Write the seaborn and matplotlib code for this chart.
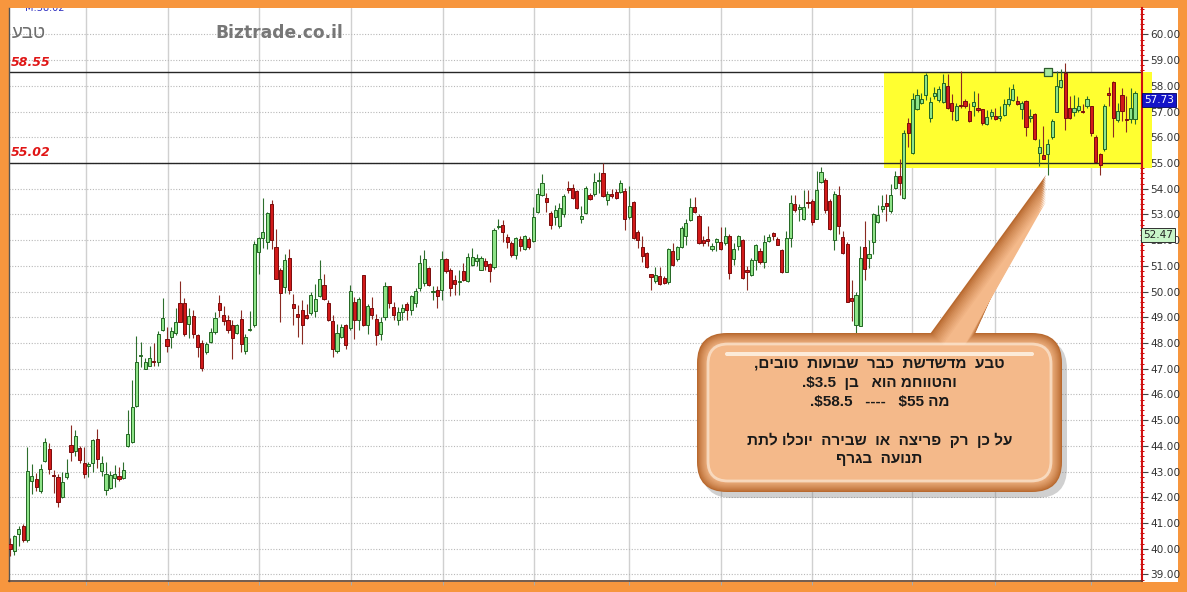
import re
import numpy as np
import pandas as pd
import matplotlib
matplotlib.use("Agg")
import matplotlib.pyplot as plt
import matplotlib.patches as mpatches
import matplotlib.transforms as mtransforms
import seaborn as sns

# ---- daily candles (oldest first) ----
opens = [
    40.2, 39.9, 40.56, 40.9, 40.35, 42.64, 42.7, 42.25, 43.42, 43.87,
    42.86, 42.8, 42.03, 42.8, 44.04, 43.8, 43.91, 43.35, 43.2, 43.35,
    44.26, 43.03, 42.29, 42.38, 42.74, 42.83, 42.77, 44.0, 44.16, 45.56,
    47.49, 47.01, 47.12, 47.31, 47.27, 48.52, 48.16, 48.22, 48.39, 49.56,
    49.56, 48.74, 49.06, 48.3, 48.01, 47.65, 48.06, 48.43, 49.57, 49.08,
    48.9, 48.71, 48.4, 48.95, 47.71, 48.5, 48.69, 51.55, 52.09, 51.94,
    53.39, 51.74, 50.83, 50.18, 51.29, 49.52, 49.14, 49.27, 49.1, 49.18,
    49.23, 49.83, 50.25, 49.57, 48.84, 47.71, 48.23, 48.69, 48.58, 49.6,
    48.88, 50.64, 48.71, 49.36, 48.95, 48.35, 49.0, 50.21, 49.4, 48.9,
    49.2, 49.5, 49.3, 49.56, 50.14, 50.34, 50.92, 49.97, 50.08, 50.08,
    51.25, 50.86, 50.47, 50.36, 50.79, 50.4, 51.05, 51.2, 50.86, 51.21,
    51.08, 50.96, 52.5, 52.61, 52.13, 51.9, 51.44, 52.06, 51.64, 52.06,
    51.96, 53.09, 53.74, 53.65, 53.04, 52.91, 52.55, 53.0, 54.04, 54.04,
    53.91, 52.83, 53.06, 53.74, 53.78, 54.3, 54.6, 53.58, 53.78, 53.88,
    53.87, 53.91, 52.91, 53.48, 52.3, 51.74, 51.51, 50.68, 50.4, 50.6,
    50.53, 50.36, 51.57, 51.25, 51.74, 52.18, 52.78, 53.3, 52.96, 52.0,
    52.05, 51.66, 51.92, 51.92, 51.9, 52.18, 51.27, 51.79, 52.0, 50.86,
    50.65, 51.23, 51.57, 51.14, 51.96, 52.28, 52.06, 51.61, 50.77, 52.09,
    53.42, 53.2, 52.84, 53.47, 53.51, 52.84, 54.28, 54.36, 53.51, 52.0,
    53.77, 52.13, 51.87, 49.77, 48.71, 48.68, 51.74, 51.29, 51.94, 52.71,
    53.23, 53.46, 53.12, 54.03, 54.49, 53.64, 56.56, 55.39, 57.12, 57.35,
    57.64, 56.74, 57.6, 57.46, 57.38, 58.0, 57.35, 56.68, 57.27, 57.42,
    57.03, 57.2, 57.12, 57.1, 56.52, 56.84, 56.84, 56.77, 56.86, 57.29,
    57.46, 57.42, 57.1, 57.42, 56.74, 56.9, 55.39, 55.32, 55.36, 56.0,
    57.0, 57.94, 58.52, 57.16, 57.0, 57.07, 57.03, 57.23, 57.2, 56.0,
    55.36, 55.55, 57.74, 58.15, 56.68, 57.64, 56.72, 56.71, 56.71,
]
highs = [
    40.4, 40.55, 40.9, 40.95, 43.94, 43.29, 42.96, 43.3, 44.29, 44.1,
    43.06, 42.9, 42.99, 43.48, 44.8, 44.62, 44.0, 43.96, 43.38, 44.26,
    44.65, 43.6, 43.38, 43.03, 43.25, 43.18, 43.38, 45.39, 46.56, 48.29,
    48.03, 47.4, 47.9, 48.0, 48.48, 49.74, 48.61, 48.61, 49.35, 50.43,
    49.74, 49.35, 49.3, 48.36, 48.1, 48.04, 48.58, 49.21, 49.86, 49.44,
    49.1, 48.88, 48.75, 49.27, 48.36, 49.23, 51.96, 52.13, 53.65, 53.08,
    53.56, 52.45, 50.9, 51.48, 51.65, 49.92, 49.47, 49.66, 49.53, 49.99,
    50.31, 51.22, 50.7, 49.66, 49.1, 48.75, 48.75, 48.75, 50.25, 49.79,
    49.79, 50.66, 49.53, 49.79, 49.14, 49.0, 50.36, 50.23, 49.6, 49.4,
    49.5, 49.6, 49.88, 50.14, 51.44, 51.61, 50.96, 50.21, 50.23, 51.57,
    51.31, 50.92, 50.66, 50.86, 51.12, 51.51, 51.7, 51.45, 51.4, 51.31,
    51.12, 52.48, 52.81, 52.77, 52.26, 51.96, 52.13, 52.16, 52.22, 52.13,
    53.3, 54.04, 54.56, 53.84, 53.13, 53.35, 53.43, 53.8, 54.3, 54.17,
    53.97, 53.32, 54.1, 53.84, 54.62, 54.65, 55.01, 53.91, 54.0, 54.0,
    54.36, 54.04, 54.1, 53.52, 52.39, 52.16, 51.53, 50.7, 50.96, 50.96,
    50.6, 51.7, 51.9, 51.79, 52.55, 52.81, 53.65, 53.69, 53.0, 52.18,
    52.55, 51.9, 52.09, 52.52, 52.52, 52.26, 51.9, 52.22, 52.05, 51.01,
    51.29, 51.87, 51.68, 52.19, 52.26, 52.32, 52.13, 51.65, 52.35, 53.74,
    53.74, 53.42, 53.97, 53.94, 53.61, 54.71, 54.84, 54.41, 53.61, 53.9,
    54.1, 52.35, 51.94, 50.45, 50.0, 51.78, 52.74, 52.0, 53.07, 53.36,
    53.77, 53.81, 54.19, 54.71, 55.16, 56.3, 56.77, 57.74, 57.87, 57.74,
    58.49, 57.55, 57.94, 58.0, 58.45, 58.45, 57.68, 57.35, 58.58, 57.51,
    57.35, 57.81, 57.74, 57.12, 57.07, 57.1, 57.16, 57.23, 57.48, 57.97,
    58.06, 57.59, 57.42, 57.46, 57.12, 56.94, 55.94, 56.45, 55.94, 56.71,
    58.58, 58.65, 58.9, 57.61, 57.64, 57.55, 57.29, 57.59, 57.23, 56.09,
    55.39, 57.29, 57.94, 58.19, 57.35, 57.9, 57.61, 57.9, 57.81,
]
lows = [
    39.7, 39.75, 40.1, 40.25, 40.25, 42.12, 42.25, 42.18, 43.38, 42.9,
    42.18, 41.62, 41.99, 42.73, 43.42, 43.61, 43.35, 42.77, 42.8, 42.99,
    43.16, 42.83, 42.08, 42.31, 42.42, 42.64, 42.73, 43.94, 44.13, 45.53,
    47.05, 46.99, 47.09, 47.1, 47.09, 48.48, 47.66, 47.79, 48.31, 48.81,
    48.29, 48.18, 48.2, 47.45, 46.9, 47.58, 48.01, 48.36, 49.01, 48.71,
    48.4, 47.39, 48.36, 47.65, 47.58, 48.45, 48.62, 50.7, 51.68, 51.65,
    51.65, 50.48, 48.82, 49.96, 49.92, 48.69, 48.23, 47.97, 48.95, 49.1,
    49.01, 49.79, 49.66, 48.84, 47.45, 47.62, 48.19, 47.75, 48.49, 48.17,
    48.49, 48.66, 48.36, 48.95, 47.94, 48.1, 48.9, 49.36, 48.9, 48.7,
    48.9, 48.9, 49.1, 49.4, 50.01, 50.21, 50.21, 49.69, 49.36, 49.69,
    50.73, 49.82, 49.88, 49.88, 50.4, 50.36, 50.99, 51.0, 50.83, 50.86,
    50.36, 50.88, 52.42, 51.92, 51.7, 51.35, 51.27, 51.57, 51.61, 51.64,
    51.92, 53.04, 53.71, 53.09, 52.42, 52.61, 52.49, 52.9, 53.84, 53.61,
    53.22, 52.68, 53.0, 53.56, 53.71, 53.82, 53.69, 53.35, 53.65, 53.61,
    53.84, 52.39, 52.81, 52.05, 51.7, 51.14, 50.92, 50.05, 50.34, 50.27,
    50.31, 50.31, 51.01, 51.21, 51.7, 51.83, 52.74, 53.04, 51.87, 51.77,
    51.77, 51.57, 51.57, 51.61, 51.83, 50.49, 51.05, 51.61, 50.49, 50.08,
    50.62, 50.84, 51.06, 50.9, 51.94, 52.0, 51.81, 50.71, 50.75, 51.74,
    53.1, 52.74, 52.77, 53.25, 52.58, 52.81, 54.23, 53.07, 52.39, 51.61,
    52.26, 51.45, 49.59, 48.84, 47.65, 48.65, 50.45, 50.9, 51.48, 52.65,
    53.1, 52.74, 53.07, 54.0, 53.77, 53.61, 55.61, 55.35, 57.07, 57.29,
    57.46, 56.61, 57.48, 57.38, 57.35, 57.1, 56.68, 56.65, 57.16, 57.16,
    56.61, 56.84, 56.97, 56.48, 56.48, 56.71, 56.68, 56.65, 56.84, 57.23,
    57.42, 57.25, 56.71, 56.04, 56.58, 55.91, 54.88, 55.14, 54.52, 55.94,
    56.97, 57.9, 56.3, 56.71, 56.84, 56.97, 56.94, 57.16, 56.06, 55.03,
    54.52, 55.48, 57.23, 56.0, 56.58, 56.65, 56.19, 56.55, 56.52,
]
closes = [
    40.0, 40.5, 40.78, 40.35, 43.03, 42.83, 42.42, 43.12, 44.16, 43.12,
    42.82, 41.82, 42.6, 42.96, 43.77, 44.39, 43.44, 42.9, 43.28, 44.22,
    43.5, 43.35, 42.92, 42.86, 42.92, 42.7, 43.05, 44.48, 45.52, 47.27,
    47.52, 47.27, 47.4, 47.25, 48.35, 48.96, 47.9, 48.48, 48.83, 48.83,
    48.35, 49.06, 48.35, 47.84, 47.04, 47.97, 48.43, 48.97, 49.27, 48.84,
    48.49, 48.19, 48.69, 47.97, 48.23, 48.53, 51.87, 52.09, 52.32, 53.04,
    52.0, 50.51, 49.96, 51.22, 50.05, 49.36, 49.01, 48.69, 48.97, 49.88,
    49.73, 50.48, 49.7, 48.88, 47.75, 48.4, 48.62, 47.94, 50.01, 48.88,
    49.73, 48.69, 49.44, 49.08, 48.3, 48.8, 50.21, 49.56, 49.1, 49.2,
    49.35, 49.3, 49.82, 50.01, 51.12, 51.25, 50.27, 49.99, 49.82, 51.27,
    50.79, 50.14, 50.31, 50.43, 50.44, 51.35, 51.34, 51.3, 51.31, 51.01,
    50.79, 52.39, 52.52, 52.31, 51.92, 51.44, 52.09, 51.79, 52.16, 51.74,
    52.91, 53.78, 54.21, 53.48, 52.61, 53.19, 53.25, 53.7, 53.95, 53.65,
    53.26, 52.96, 54.04, 53.61, 54.26, 54.35, 53.71, 53.78, 53.71, 53.65,
    54.21, 52.83, 53.32, 52.09, 52.0, 51.4, 50.96, 50.55, 50.66, 50.31,
    50.34, 51.66, 51.05, 51.74, 52.48, 52.68, 53.3, 53.09, 51.9, 51.9,
    51.96, 51.79, 52.05, 51.66, 52.18, 50.73, 51.66, 52.16, 50.53, 50.78,
    51.23, 51.81, 51.14, 51.94, 52.13, 52.17, 51.83, 50.75, 52.1, 53.46,
    53.16, 53.29, 53.29, 53.44, 52.71, 53.94, 54.65, 53.16, 52.45, 53.81,
    52.55, 51.52, 49.61, 49.64, 49.85, 51.32, 50.88, 51.45, 53.0, 52.97,
    53.33, 53.33, 53.74, 54.49, 54.23, 56.17, 56.17, 57.48, 57.64, 57.51,
    58.41, 57.38, 57.74, 57.87, 58.1, 57.16, 57.03, 57.23, 57.2, 57.23,
    56.65, 57.38, 57.08, 56.55, 56.81, 56.99, 56.71, 56.84, 57.29, 57.48,
    57.87, 57.29, 57.35, 56.39, 56.84, 55.94, 55.61, 55.16, 55.74, 56.65,
    58.0, 58.23, 56.77, 56.74, 57.16, 57.2, 56.99, 57.51, 56.17, 55.06,
    54.93, 57.23, 57.64, 56.74, 57.03, 57.03, 56.68, 57.16, 57.73,
]

# month boundaries on the day axis
month_breaks = [17.4, 36.2, 57.2, 78.2, 99.2, 120.1, 142.0, 163.1, 184.0, 206.9, 226.0, 247.9]
price_ticks = list(range(39, 61))

resistance = 58.55
support = 55.02
range_zone = (54.8, 58.55)
range_start_day = 200.5
alert_day = 238
last_price = 57.73
avg_value = 52.47
avg_label_y = 52.2
ticker = "טבע"
site = "Biztrade.co.il"
top_note = "M:58.02"

note_lines = [
    "טבע  מדשדשת  כבר  שבועות  טובים,",
    "והטווחמ הוא   בן  $3.5.",
    "מה $55   ----   $58.5.",
    "",
    "על כן  רק  פריצה  או  שבירה  יוכלו לתת",
    "תנועה  בגרף",
]


def rtl(s):
    """Order a right-to-left line for left-to-right glyph placement."""
    tokens = re.findall(r"\$?\d+(?:\.\d+)?|.", s)
    return "".join(reversed(tokens)).replace("$", r"\$")


df = pd.DataFrame({"open": opens, "high": highs, "low": lows, "close": closes})
df["day"] = np.arange(len(df))
df["up"] = df["close"] >= df["open"]

sns.set_theme(style="white")
plt.rcParams["font.family"] = ["DejaVu Sans"]

W, H = 1187, 592
ORANGE = "#F7963E"
fig = plt.figure(figsize=(W / 100, H / 100), dpi=100)
fig.patch.set_facecolor(ORANGE)
fig.add_artist(mpatches.Rectangle((9 / W, (H - 582) / H), (1178 - 9) / W, (582 - 8) / H,
                                  transform=fig.transFigure, facecolor="white",
                                  edgecolor="none", zorder=0))

ax = fig.add_axes([9 / W, (H - 581) / H, (1142 - 9) / W, (581 - 8) / H])
ax.set_facecolor("white")
ax.set_xlim(-0.23, 259.6)
ax.set_ylim(38.747, 61.03)

# grid
ax.set_yticks(price_ticks)
ax.set_yticklabels([f"{v:.2f}" for v in price_ticks])
ax.set_yticks(np.arange(38.8, 61.0, 0.2), minor=True)
ax.set_xticks(month_breaks)
ax.set_xticklabels([])
ax.grid(axis="y", which="major", color="#b8b8b8", linestyle=(0, (1, 1.5)), linewidth=0.8, zorder=0)
ax.grid(axis="x", which="major", color="#d0d0d0", linestyle="-", linewidth=1.0, zorder=0)
ax.set_axisbelow(True)

ax.yaxis.tick_right()
ax.tick_params(axis="y", which="major", right=True, left=False, length=4, width=0.8,
               color="#444444", labelsize=7.6, labelcolor="#333333", pad=2)
ax.tick_params(axis="y", which="minor", right=True, left=False, length=3, width=0.7,
               color="#cc0000", direction="inout")
ax.tick_params(axis="x", which="major", bottom=True, length=3, width=0.8, color="#aaaaaa")

for side, sp in ax.spines.items():
    sp.set_visible(True)
ax.spines["top"].set_visible(False)
ax.spines["right"].set_color("#d01010")
ax.spines["right"].set_linewidth(1.5)
ax.spines["left"].set_color("#555555")
ax.spines["left"].set_linewidth(1.0)
ax.spines["bottom"].set_color("#5a4030")
ax.spines["bottom"].set_linewidth(1.2)

# consolidation zone
ax.add_patch(mpatches.Rectangle((range_start_day, range_zone[0]), 261.9 - range_start_day,
                                range_zone[1] - range_zone[0], facecolor="#FFFF30",
                                edgecolor="none", zorder=1, clip_on=False))
ax.axhline(resistance, color="#262626", lw=1.0, zorder=2)
ax.axhline(support, color="#262626", lw=1.0, zorder=2)
lvl_font = dict(color="#e01515", fontsize=9, fontweight="bold", style="italic", va="bottom", ha="left")
ax.text(0.15, resistance + 0.12, f"{resistance:.2f}", zorder=6, **lvl_font)
ax.text(0.15, support + 0.12, f"{support:.2f}", zorder=6, **lvl_font)

# candles
up = df[df["up"]]
dn = df[~df["up"]]
ax.vlines(up["day"], up["low"], up["high"], colors="#2d6e2d", lw=0.8, zorder=3)
ax.vlines(dn["day"], dn["low"], dn["high"], colors="#8a2a22", lw=0.8, zorder=3)
ax.bar(up["day"], np.maximum(up["close"] - up["open"], 0.05), bottom=up["open"], width=0.72,
       color="#8ee388", edgecolor="#226622", linewidth=0.7, zorder=4)
ax.bar(dn["day"], np.maximum(dn["open"] - dn["close"], 0.05), bottom=dn["close"], width=0.72,
       color="#d21a1a", edgecolor="#7a0c0c", linewidth=0.7, zorder=4)

sns.scatterplot(x=[alert_day], y=[resistance], marker="s", s=26, color="#a6e8a0",
                edgecolor="#2e5e2e", linewidth=0.9, ax=ax, zorder=6, legend=False)

# header texts
ax.text(3.5, 61.03, top_note, color="#3030c0", fontsize=7, ha="left", va="center",
        clip_on=True, zorder=7)
fig.text(12 / W, 1 - 34 / H, rtl(ticker), color="#6e6e6e", fontsize=13.5,
         family=["Liberation Sans", "DejaVu Sans"], ha="left", va="center")
fig.text(215 / W, 1 - 33 / H, site, color="#777777", fontsize=12.3, fontweight="bold",
         ha="left", va="center")

# price tags on the right axis
blend = mtransforms.blended_transform_factory(ax.transAxes, ax.transData)
ax.text(1.0015, 57.45, f"{last_price:.2f}", transform=blend, color="white", fontsize=7.6,
        ha="left", va="center", zorder=8, clip_on=False,
        bbox=dict(boxstyle="square,pad=0.18", fc="#1414c8", ec="#000060", lw=0.6))
ax.text(1.0008, avg_label_y, f"{avg_value:.2f}", transform=blend, color="#222222", fontsize=7.6,
        ha="left", va="center", zorder=8, clip_on=False,
        bbox=dict(boxstyle="square,pad=0.2", fc="#c9f5c9", ec="#303030", lw=0.7))

# annotation bubble (pixel coordinates, origin top-left)
ident = mtransforms.IdentityTransform()


def px(x, y):
    return (x, H - y)


def mix(c1, c2, t):
    a = np.array(matplotlib.colors.to_rgb(c1))
    b = np.array(matplotlib.colors.to_rgb(c2))
    return tuple(a + (b - a) * t)


bx0, by0, bx1, by1 = 697, 333, 1062, 492
tail = [(922, 345), (1046, 175), (970, 345)]

shadow = mpatches.FancyBboxPatch(px(bx0 + 5, by1 + 6), bx1 - bx0, by1 - by0,
                                 boxstyle="round,pad=0,rounding_size=30", transform=ident,
                                 fc="#7a7a7a", ec="none", alpha=0.35, zorder=5, clip_on=False)
ax.add_patch(shadow)

rim, face = "#b8692f", "#f4b98a"
n_layers = 12
for k in range(n_layers):
    d = k * 1.1
    col = mix(rim, face, (k / (n_layers - 1)) ** 0.8)
    box = mpatches.FancyBboxPatch(px(bx0 + d, by1 - d), (bx1 - bx0) - 2 * d, (by1 - by0) - 2 * d,
                                  boxstyle=f"round,pad=0,rounding_size={max(30 - d, 6)}",
                                  transform=ident, fc=col, ec="none", zorder=5.1 + k * 0.01,
                                  clip_on=False)
    ax.add_patch(box)
    tri = [px(tail[0][0] + d, tail[0][1] + d), px(tail[1][0], tail[1][1] + 2.2 * d),
           px(tail[2][0] - d, tail[2][1] + d)]
    ax.add_patch(mpatches.Polygon(tri, closed=True, transform=ident, fc=col, ec="none",
                                  zorder=5.1 + k * 0.01, clip_on=False))

hl = mpatches.FancyBboxPatch(px(bx0 + 11, by1 - 11), (bx1 - bx0) - 22, (by1 - by0) - 22,
                             boxstyle="round,pad=0,rounding_size=20", transform=ident,
                             fc="none", ec="#fff4e6", lw=2.0, alpha=0.6, zorder=5.3,
                             clip_on=False)
ax.add_patch(hl)
gloss = mpatches.FancyBboxPatch(px(bx0 + 28, 356), (bx1 - bx0) - 56, 4,
                                boxstyle="round,pad=0,rounding_size=2", transform=ident,
                                fc="#fff8ee", ec="none", alpha=0.8, zorder=5.31, clip_on=False)
ax.add_patch(gloss)

line_y = [364, 383, 402, 421, 440, 459]
cx = (bx0 + bx1) / 2
for txt, yy in zip(note_lines, line_y):
    if not txt:
        continue
    ax.text(*px(cx, yy), rtl(txt), transform=ident, ha="center", va="center", fontsize=11,
            fontweight="bold", color="#1a1a1a", family=["Liberation Sans", "DejaVu Sans"],
            zorder=7, clip_on=False)

fig.savefig("out.png", dpi=100, facecolor=fig.get_facecolor())
